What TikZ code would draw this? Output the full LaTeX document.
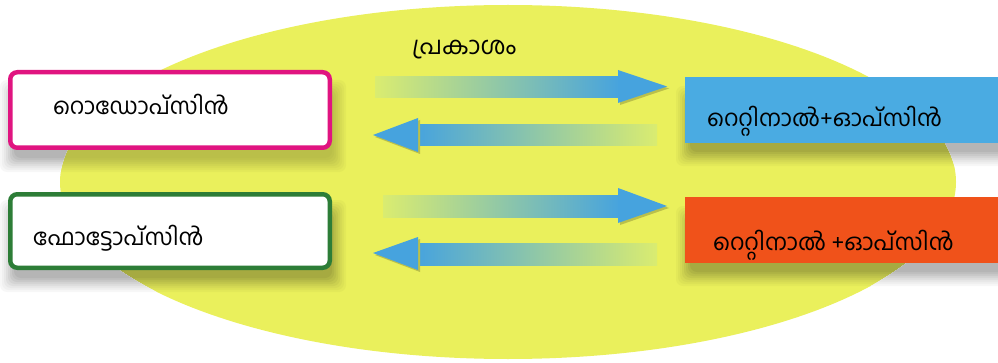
\documentclass[tikz,border=0pt]{standalone}
\usepackage{fontspec}
\newfontfamily\mal[Script=Malayalam]{Hind Kochi}
\definecolor{bgy}{RGB}{234,240,92}
\definecolor{mag}{RGB}{224,20,128}
\definecolor{grn}{RGB}{45,125,55}
\definecolor{bbox}{RGB}{74,171,226}
\definecolor{obox}{RGB}{240,82,26}
\definecolor{arb}{RGB}{70,163,222}
\definecolor{art}{RGB}{76,196,196}
\definecolor{fade}{RGB}{218,236,112}
\tikzset{
  lbox/.style={draw=#1, line width=4.5pt, rounded corners=7pt, fill=white, inner sep=0pt},
  rbox/.style={fill=#1, inner sep=0pt},
  txt/.style={font=\mal\fontsize{23}{28}\selectfont, inner sep=0pt, anchor=base west},
  head/.style={fill=arb},
  hsh/.style={fill=bgy!80!black},
}
\begin{document}
\begin{tikzpicture}[x=1pt,y=1pt]
\useasboundingbox (0,0) rectangle (998,362);
\fill[bgy] (508,180) ellipse [x radius=448, y radius=177];
% shadows on the yellow ellipse
\begin{scope}
  \clip (508,180) ellipse [x radius=448, y radius=177];
  \foreach \ee/\cc in {14/3,12/6,10/9,8/13,6/17,4/21,2/25,0/29}{
    \fill[color=bgy!\cc!black!\cc!bgy, rounded corners=7pt] (14-\ee,204-\ee) rectangle (332+\ee,268+\ee);
    \fill[color=black!\cc!bgy, rounded corners=7pt] (14-\ee,84-\ee) rectangle (332+\ee,148+\ee);
    \fill[color=black!\cc!bgy, rounded corners=7pt] (690-\ee,210-\ee) rectangle (1012+\ee,262+\ee);
    \fill[color=black!\cc!bgy, rounded corners=7pt] (690-\ee,90-\ee) rectangle (1012+\ee,142+\ee);
  }
\end{scope}
% shadows on the white page
\begin{scope}[even odd rule]
  \clip (-20,-20) rectangle (1020,382) (508,180) ellipse [x radius=448, y radius=177];
  \foreach \ee/\cc in {14/3,12/6,10/9,8/13,6/17,4/21,2/25,0/29}{
    \fill[color=black!\cc!white, rounded corners=7pt] (14-\ee,204-\ee) rectangle (332+\ee,268+\ee);
    \fill[color=black!\cc!white, rounded corners=7pt] (14-\ee,84-\ee) rectangle (332+\ee,148+\ee);
    \fill[color=black!\cc!white, rounded corners=7pt] (690-\ee,210-\ee) rectangle (1012+\ee,262+\ee);
    \fill[color=black!\cc!white, rounded corners=7pt] (690-\ee,90-\ee) rectangle (1012+\ee,142+\ee);
  }
\end{scope}
% boxes
\node[lbox=mag, minimum width=319.5pt, minimum height=75.5pt] (rho) at (170,252) {};
\node[lbox=grn, minimum width=319.5pt, minimum height=73.5pt] (pho) at (170,131) {};
\node[rbox=bbox, minimum width=315pt, minimum height=66pt] (rb) at (842.5,252) {};
\node[rbox=obox, minimum width=315pt, minimum height=66pt] (ro) at (842.5,132) {};
% texts
\node[txt] (trho) at (53,247) {റൊഡോപ്സിൻ};
\node[txt] (tpho) at (33,117) {ഫോട്ടോപ്സിൻ};
\node[txt] (trb) at (707,235) {റെറ്റിനാൽ+ഓപ്സിൻ};
\node[txt] (tro) at (713,112) {റെറ്റിനാൽ +ഓപ്സിൻ};
\node[txt, font=\mal\fontsize{24.5}{29}\selectfont] (light) at (412,307) {പ്രകാശം};
% arrows
\shade[left color=fade, middle color=art, right color=arb] (375,285) rectangle (620,264);
\fill[hsh] (620,290) -- (669,273.5) -- (620,257) -- cycle;
\fill[head] (618,292) -- (667,275.5) -- (618,259) -- cycle;
\shade[left color=arb, middle color=art, right color=fade] (416,237) rectangle (657,216);
\fill[hsh] (420,242) -- (375,225) -- (420,208) -- cycle;
\fill[head] (418,244) -- (373,227) -- (418,210) -- cycle;
\shade[left color=fade, middle color=art, right color=arb] (383,167) rectangle (620,145);
\fill[hsh] (620,172) -- (669,154) -- (620,137) -- cycle;
\fill[head] (618,174) -- (667,156) -- (618,139) -- cycle;
\shade[left color=arb, middle color=art, right color=fade] (416,119) rectangle (657,97);
\fill[hsh] (420,123) -- (375,107) -- (420,90) -- cycle;
\fill[head] (418,125) -- (373,109) -- (418,92) -- cycle;
\end{tikzpicture}
\end{document}
